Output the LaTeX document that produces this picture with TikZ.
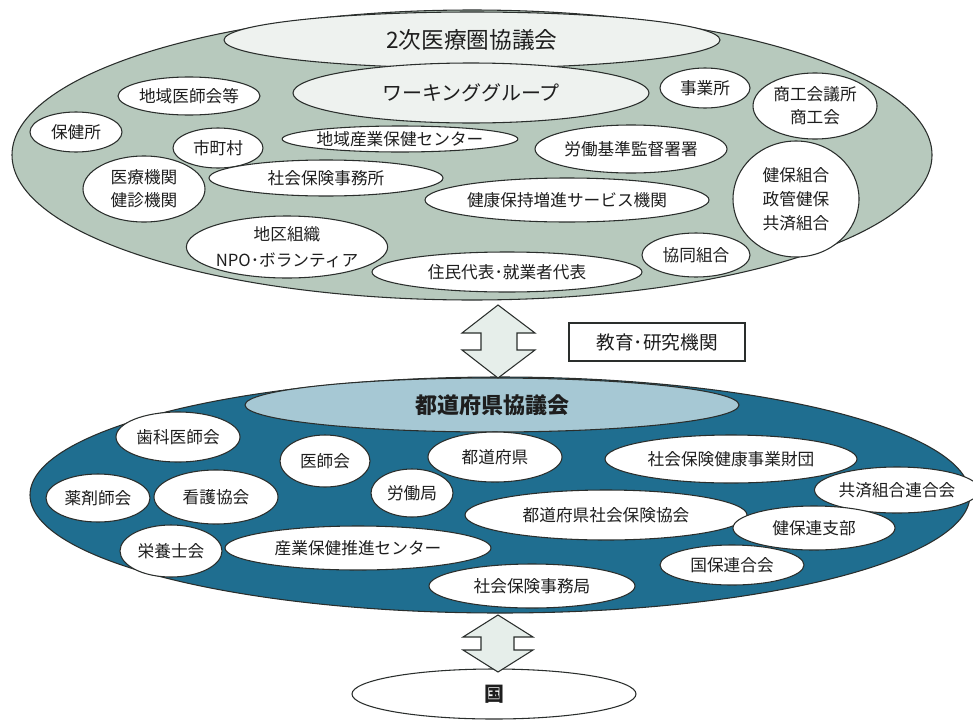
\documentclass[tikz,border=0pt]{standalone}
\usepackage{fontspec}
\setmainfont{Noto Sans CJK JP}
\usetikzlibrary{shapes.geometric}
\definecolor{lineC}{HTML}{2A2E2C}
\definecolor{textC}{HTML}{1E1E1E}
\definecolor{topG}{HTML}{B7C9BD}
\definecolor{paleG}{HTML}{EEF2EF}
\definecolor{botB}{HTML}{1F6E90}
\definecolor{lightB}{HTML}{A6C8D4}
\definecolor{arrowF}{HTML}{E6EEEA}
\begin{document}
\begin{tikzpicture}[x=0.75pt,y=-0.75pt,
  el/.style n args={2}{ellipse, draw=lineC, line width=0.8pt, fill=white,
    inner sep=0pt, minimum width={1.5pt*#1}, minimum height={1.5pt*#2},
    font=\fontsize{12.5}{17}\selectfont, align=center, text=textC},
  dblarrow/.style={draw=lineC, line width=0.8pt, fill=arrowF, line join=miter},
  boxnode/.style={draw=lineC, line width=0.8pt, fill=white, minimum width=132pt,
    minimum height=28.5pt, inner sep=0pt, font=\fontsize{14}{17}\selectfont, text=textC}
]
\path[use as bounding box] (0,0) rectangle (973,721);

% ---------- top: 2nd medical area council ----------
\node[el={460}{145}, fill=topG] (top) at (472,155) {};
\node[el={248}{28}, fill=paleG, font=\fontsize{17}{20}\selectfont] (ttl) at (472,40) {2次医療圏協議会};
\node[el={178}{30}, fill=paleG, font=\fontsize{15}{18}\selectfont] (wg) at (471,93) {ワーキンググループ};

\node[el={71}{19}] (ishikai) at (189,96) {地域医師会等};
\node[el={46}{20}] (hokenjo) at (76,132) {保健所};
\node[el={45}{20}] (shichoson) at (218,148) {市町村};
\node[el={61}{33}] (iryo) at (144,189) {医療機関\\健診機関};
\node[el={117}{13}] (sangyo) at (400,139) {地域産業保健センター};
\node[el={117}{18}] (shaho) at (326,178) {社会保険事務所};
\node[el={97}{31}, font=\fontsize{12.5}{19}\selectfont] (npo) at (287,247) {地区組織\\NPO･ボランティア};
\node[el={135}{20}] (jumin) at (507,272) {住民代表･就業者代表};
\node[el={142}{22}] (kenko) at (567,200) {健康保持増進サービス機関};
\node[el={96}{24}] (roki) at (631,149) {労働基準監督署署};
\node[el={45}{20}] (jigyo) at (705,88) {事業所};
\node[el={62}{33}] (shoko) at (815,106) {商工会議所\\商工会};
\node[el={63}{58}, font=\fontsize{12.5}{18}\selectfont] (kenpo) at (796,199) {健保組合\\政管健保\\共済組合};
\node[el={54}{22}] (kyodo) at (696,255) {協同組合};

% ---------- middle ----------
\node[boxnode] (kyoiku) at (657,342) {教育･研究機関};

% ---------- bottom: prefectural council ----------
\node[el={470}{118}, fill=botB] (bot) at (500,495) {};
\node[el={247}{27}, fill=lightB, font=\bfseries\fontsize{16.5}{20}\selectfont] (pref) at (492,405) {都道府県協議会};

\node[el={62}{25}] (shika) at (178,437) {歯科医師会};
\node[el={45}{26}] (ishi) at (325,461) {医師会};
\node[el={52}{24}] (yaku) at (98,498) {薬剤師会};
\node[el={62}{27}] (kango) at (216,497) {看護協会};
\node[el={41}{24}] (rodo) at (412,493) {労働局};
\node[el={51}{26}] (eiyo) at (171,551) {栄養士会};
\node[el={133}{22}] (suishin) at (358,548) {産業保健推進センター};
\node[el={67}{25}] (todo) at (495,457) {都道府県};
\node[el={126}{24}] (zaidan) at (731,459) {社会保険健康事業財団};
\node[el={72}{23}] (kyosai) at (897,490) {共済組合連合会};
\node[el={141}{25}] (kyokai) at (606,515) {都道府県社会保険協会};
\node[el={81}{22}] (kenporen) at (814,528) {健保連支部};
\node[el={103}{22}] (jimukyoku) at (532,586) {社会保険事務局};
\node[el={72}{20}] (kokuho) at (732,565) {国保連合会};

% ---------- national ----------
\node[el={142}{25}, font=\bfseries\fontsize{15}{18}\selectfont] (kuni) at (494,694) {国};

% ---------- double arrows ----------
\draw[dblarrow] (498,305) -- (535,333) -- (517,333) -- (517,350) -- (535,350)
  -- (498,378) -- (462,350) -- (481,350) -- (481,333) -- (462,333) -- cycle;
\draw[dblarrow] (498,615) -- (533,637) -- (514,637) -- (514,650) -- (533,650)
  -- (498,672) -- (463,650) -- (481,650) -- (481,637) -- (463,637) -- cycle;
\end{tikzpicture}
\end{document}
